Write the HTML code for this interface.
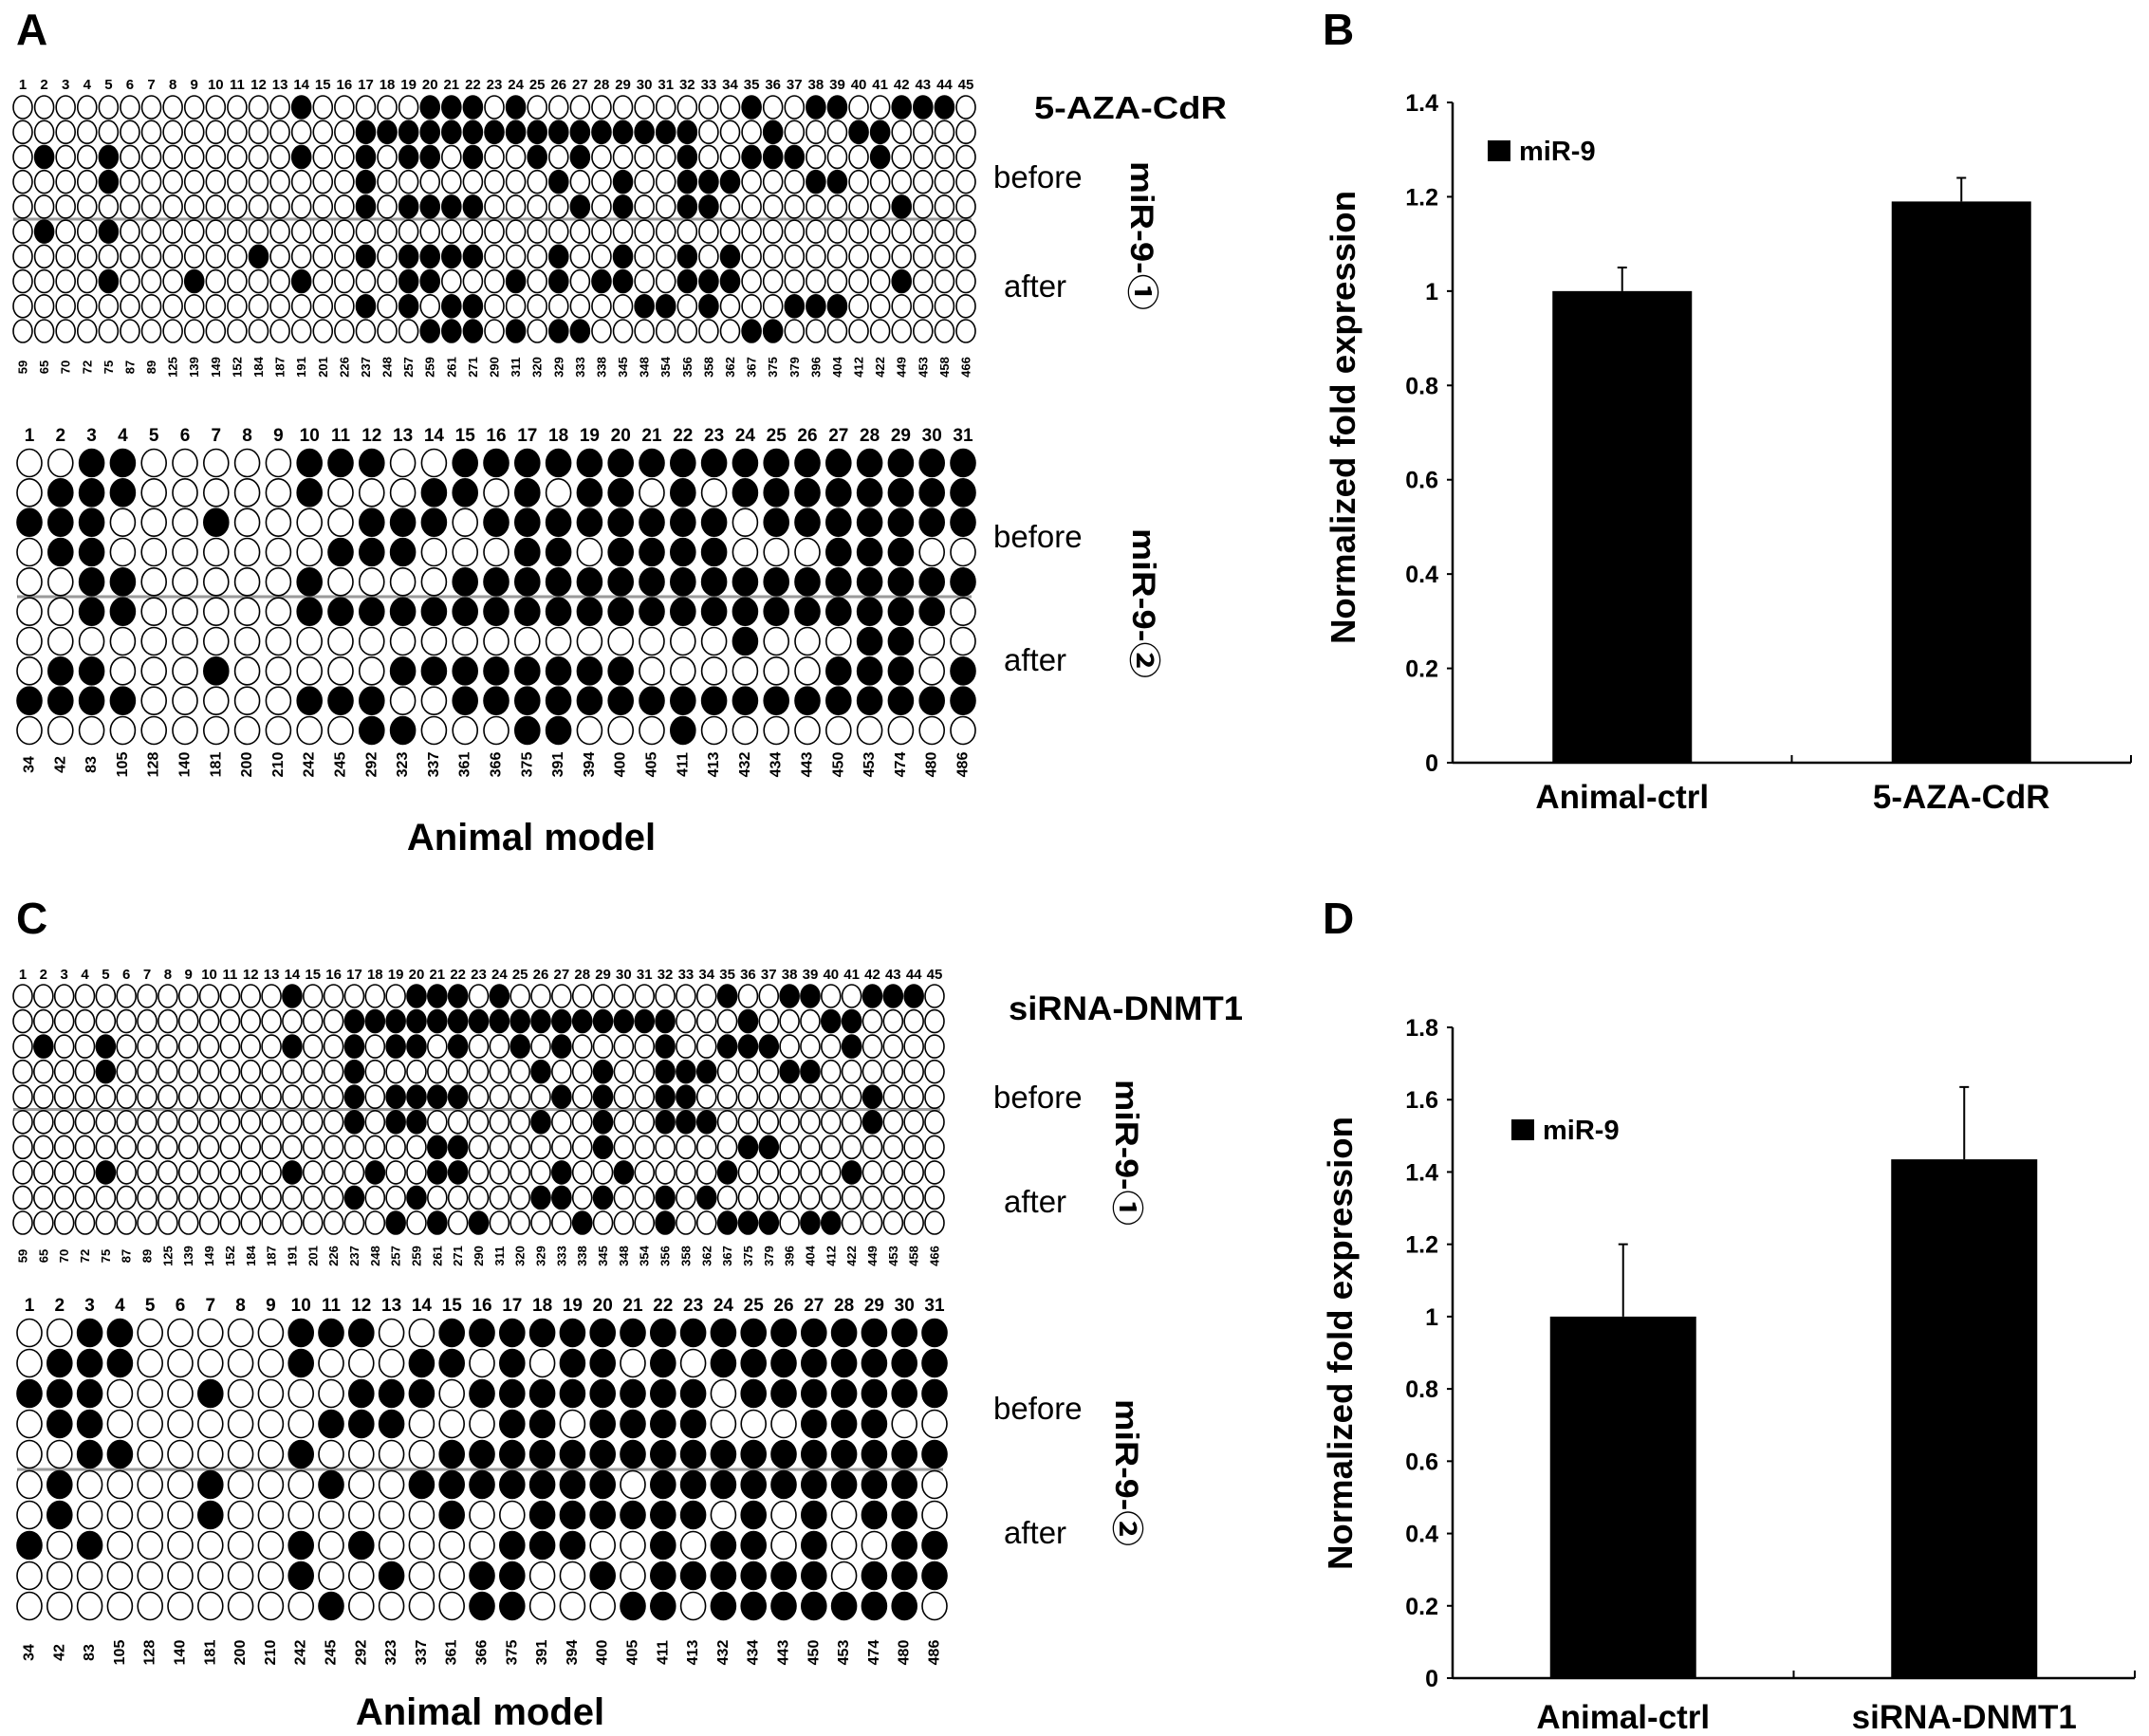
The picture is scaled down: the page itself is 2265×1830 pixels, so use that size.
<!DOCTYPE html>
<html><head><meta charset="utf-8">
<style>
html,body{margin:0;padding:0;background:#fff;}
svg{display:block;font-family:"Liberation Sans","Noto Sans CJK JP",sans-serif;}
</style></head>
<body>
<svg id="fig" width="2265" height="1830" viewBox="0 0 2265 1830" xmlns="http://www.w3.org/2000/svg">
<rect width="2265" height="1830" fill="#fff"/>
<g font-weight="bold" font-size="46" fill="#000">
<text x="17" y="47">A</text>
<text x="1394" y="47">B</text>
<text x="17" y="984">C</text>
<text x="1394" y="984">D</text>
</g>
<g fill="#000">
<text x="1090" y="125" font-weight="bold" font-size="33" textLength="203" lengthAdjust="spacingAndGlyphs">5-AZA-CdR</text>
<text x="1047" y="198" font-size="33">before</text>
<text x="1058" y="313" font-size="33">after</text>
<text transform="translate(1192,170) rotate(90)" font-weight="bold" font-size="34" textLength="157" lengthAdjust="spacingAndGlyphs">miR-9-①</text>
<text x="1047" y="577" font-size="33">before</text>
<text x="1058" y="707" font-size="33">after</text>
<text transform="translate(1194,557) rotate(90)" font-weight="bold" font-size="34" textLength="158" lengthAdjust="spacingAndGlyphs">miR-9-②</text>
<text x="560" y="896" text-anchor="middle" font-weight="bold" font-size="40">Animal model</text>

<text x="1063" y="1075" font-weight="bold" font-size="35" textLength="247" lengthAdjust="spacingAndGlyphs">siRNA-DNMT1</text>
<text x="1047" y="1168" font-size="33">before</text>
<text x="1058" y="1278" font-size="33">after</text>
<text transform="translate(1176,1138) rotate(90)" font-weight="bold" font-size="34" textLength="154" lengthAdjust="spacingAndGlyphs">miR-9-①</text>
<text x="1047" y="1496" font-size="33">before</text>
<text x="1058" y="1627" font-size="33">after</text>
<text transform="translate(1176,1475) rotate(90)" font-weight="bold" font-size="34" textLength="155" lengthAdjust="spacingAndGlyphs">miR-9-②</text>
<text x="506" y="1818" text-anchor="middle" font-weight="bold" font-size="40">Animal model</text>
</g>
<g id="grids"></g>
<g id="charts"></g>
</svg>
<script>
// ---- methylation grid data (filled CpG indices per clone row) ----
const posA1 = [59,65,70,72,75,87,89,125,139,149,152,184,187,191,201,226,237,248,257,259,261,271,290,311,320,329,333,338,345,348,354,356,358,362,367,375,379,396,404,412,422,449,453,458,466];
const rowsA1 = [
 [14,20,21,22,24,35,38,39,42,43,44],
 [17,18,19,20,21,22,23,24,25,26,27,28,29,30,31,32,36,40,41],
 [2,5,14,17,19,20,22,25,27,32,35,36,37,41],
 [5,17,26,29,32,33,34,38,39],
 [17,19,20,21,22,27,29,32,33,42],
 [2,5],
 [12,17,19,20,21,22,26,29,32,34],
 [5,9,14,19,20,24,26,28,29,32,33,34,42],
 [17,19,21,22,30,31,33,37,38,39],
 [20,21,22,24,26,27,35,36]
];
const rowsC1 = [
 [14,20,21,22,24,35,38,39,42,43,44],
 [17,18,19,20,21,22,23,24,25,26,27,28,29,30,31,32,36,40,41],
 [2,5,14,17,19,20,22,25,27,32,35,36,37,41],
 [5,17,26,29,32,33,34,38,39],
 [17,19,20,21,22,27,29,32,33,42],
 [17,19,20,26,29,32,33,34,42],
 [21,22,29,36,37],
 [5,14,18,21,22,27,30,35,41],
 [17,20,26,27,29,32,34],
 [19,21,23,28,32,35,36,37,39,40]
];
const posA2 = [34,42,83,105,128,140,181,200,210,242,245,292,323,337,361,366,375,391,394,400,405,411,413,432,434,443,450,453,474,480,486];
const rowsA2 = [
 [3,4,10,11,12,15,16,17,18,19,20,21,22,23,24,25,26,27,28,29,30,31],
 [2,3,4,10,14,15,17,19,20,22,24,25,26,27,28,29,30,31],
 [1,2,3,7,12,13,14,16,17,18,19,20,21,22,23,25,26,27,28,29,30,31],
 [2,3,11,12,13,17,18,20,21,22,23,27,28,29],
 [3,4,10,15,16,17,18,19,20,21,22,23,24,25,26,27,28,29,30,31],
 [3,4,10,11,12,13,14,15,16,17,18,19,20,21,22,23,24,25,26,27,28,29,30],
 [24,28,29],
 [2,3,7,13,14,15,16,17,18,19,20,27,28,29,31],
 [1,2,3,4,10,11,12,15,16,17,18,19,20,21,22,23,24,25,26,27,28,29,30,31],
 [12,13,17,18,22]
];
const rowsC2 = [
 [3,4,10,11,12,15,16,17,18,19,20,21,22,23,24,25,26,27,28,29,30,31],
 [2,3,4,10,14,15,17,19,20,22,24,25,26,27,28,29,30,31],
 [1,2,3,7,12,13,14,16,17,18,19,20,21,22,23,25,26,27,28,29,30,31],
 [2,3,11,12,13,17,18,20,21,22,23,27,28,29],
 [3,4,10,15,16,17,18,19,20,21,22,23,24,25,26,27,28,29,30,31],
 [2,7,11,14,15,16,17,18,19,20,22,23,24,25,26,27,28,29,30],
 [2,7,15,18,19,20,21,22,23,25,27,29,30],
 [1,3,10,12,17,18,19,22,24,25,27,30,31],
 [10,13,16,17,20,22,23,24,25,26,27,29,30,31],
 [11,16,17,21,22,24,25,26,27,28,29,30]
];

// ---- bar chart data ----
const catsB = ["Animal-ctrl","5-AZA-CdR"];
const valsB = [1.0, 1.19];
const errsB = [0.05, 0.05];
const ticksB = ["0","0.2","0.4","0.6","0.8","1","1.2","1.4"];
const catsD = ["Animal-ctrl","siRNA-DNMT1"];
const valsD = [1.0, 1.435];
const errsD = [0.2, 0.2];
const ticksD = ["0","0.2","0.4","0.6","0.8","1","1.2","1.4","1.6","1.8"];

const NS = "http://www.w3.org/2000/svg";
function mk(tag, attrs, parent){
  const e = document.createElementNS(NS, tag);
  for (const k in attrs) e.setAttribute(k, attrs[k]);
  parent.appendChild(e);
  return e;
}

function drawGrid(id, pos, rows, g){
  const G = mk("g", {}, document.getElementById("grids"));
  
  
  const n = pos.length;
  const colX = i => g.x0 + (g.x1 - g.x0) * i / (n - 1);
  const rowY = j => g.y0 + (g.y1 - g.y0) * j / (rows.length - 1);
  for (let i = 0; i < n; i++) {
    const t = mk("text", {x: colX(i), y: g.numY, "text-anchor": "middle", "font-weight": "bold", "font-size": g.numFs}, G);
    
    
    t.textContent = String(i + 1);
    const p = mk("text", {transform: "translate(" + colX(i) + "," + g.posY + ") rotate(-90)", "text-anchor": "middle", "dominant-baseline": "central", "font-weight": "bold", "font-size": g.posFs}, G);
    
    
    p.textContent = String(pos[i]);
  }
  const sepY = (rowY(4) + rowY(5)) / 2;
  const s = mk("line", {x1: g.x0 - g.rx, x2: g.x1 + g.rx - 4, y1: sepY, y2: sepY, stroke: "#9a9a9a", "stroke-width": 3}, G);
  
  
  rows.forEach((r, j) => {
    for (let i = 0; i < n; i++) {
      const filled = r.indexOf(i + 1) >= 0;
      const c = mk("ellipse", {cx: colX(i), cy: rowY(j), rx: g.rx, ry: g.ry, fill: filled ? "#000" : "#fff", stroke: "#000", "stroke-width": 1.6}, G);
      
      
    }
  });
}

drawGrid("methylation-grid-a1", posA1, rowsA1, {x0: 24, x1: 1018, y0: 113, y1: 349, rx: 10, ry: 12, numY: 94, numFs: 15, posY: 387, posFs: 13});
drawGrid("methylation-grid-a2", posA2, rowsA2, {x0: 31, x1: 1015, y0: 488, y1: 770, rx: 13, ry: 14.5, numY: 465, numFs: 19, posY: 806, posFs: 16});
drawGrid("methylation-grid-c1", posA1, rowsC1, {x0: 24, x1: 985, y0: 1050, y1: 1289, rx: 10, ry: 12, numY: 1032, numFs: 15, posY: 1324, posFs: 13});
drawGrid("methylation-grid-c2", posA2, rowsC2, {x0: 31, x1: 985, y0: 1405, y1: 1693, rx: 13, ry: 14.5, numY: 1382, numFs: 19, posY: 1742, posFs: 16});

function drawChart(id, cats, vals, errs, ticks, c){
  const G = mk("g", {}, document.getElementById("charts"));
  
  
  const ymax = parseFloat(ticks[ticks.length - 1]);
  const y = v => c.y0 - (c.y0 - c.yTop) * v / ymax;
  const x = i => c.ax + (c.xEnd - c.ax) * (i + 0.5) / cats.length;
  // bars
  vals.forEach((v, i) => {
    const b = mk("rect", {x: x(i) - c.bw / 2, y: y(v), width: c.bw, height: c.y0 - y(v), fill: "#000"}, G);
    
    
    const e = mk("path", {d: "M" + x(i) + "," + y(v) + "V" + y(v + errs[i]) + "M" + (x(i) - 5) + "," + y(v + errs[i]) + "H" + (x(i) + 5), stroke: "#000", "stroke-width": 2, fill: "none"}, G);
    
    
    const l = mk("text", {x: x(i), y: c.xlabY, "text-anchor": "middle", "font-weight": "bold", "font-size": 35}, G);
    
    
    l.textContent = cats[i];
  });
  // axes
  const ya = mk("line", {x1: c.ax, x2: c.ax, y1: c.yTop, y2: c.y0 + 1, stroke: "#000", "stroke-width": 2.5}, G);
  
  
  const xa = mk("line", {x1: c.ax, x2: c.xEnd, y1: c.y0, y2: c.y0, stroke: "#000", "stroke-width": 2.5}, G);
  
  
  for (let k = 1; k <= cats.length; k++) {
    const tx = c.ax + (c.xEnd - c.ax) * k / cats.length;
    const tk = mk("line", {x1: tx, x2: tx, y1: c.y0, y2: c.y0 - 8, stroke: "#000", "stroke-width": 2}, G);
    
    
  }
  ticks.forEach(t => {
    const v = parseFloat(t);
    const tk = mk("line", {x1: c.ax - 6, x2: c.ax, y1: y(v), y2: y(v), stroke: "#000", "stroke-width": 2}, G);
    
    
    const tl = mk("text", {x: c.ax - 15, y: y(v) + 9, "text-anchor": "end", "font-weight": "bold", "font-size": 25}, G);
    
    
    tl.textContent = t;
  });
  const yt = mk("text", {transform: "translate(" + c.titleX + "," + c.titleY + ") rotate(-90)", "text-anchor": "middle", "font-weight": "bold", "font-size": 36, textLength: 478, lengthAdjust: "spacingAndGlyphs"}, G);
  
  
  yt.textContent = "Normalized fold expression";
  const lg = mk("rect", {x: c.legX, y: c.legY, width: 24, height: 22, fill: "#000"}, G);
  
  
  const lt = mk("text", {x: c.legX + 33, y: c.legY + 21, "font-weight": "bold", "font-size": 29}, G);
  
  
  lt.textContent = "miR-9";
}

drawChart("bar-chart-b", catsB, valsB, errsB, ticksB, {ax: 1531, xEnd: 2246, y0: 804, yTop: 108, bw: 147, xlabY: 852, titleX: 1428, titleY: 440, legX: 1568, legY: 148});
drawChart("bar-chart-d", catsD, valsD, errsD, ticksD, {ax: 1531, xEnd: 2250, y0: 1769, yTop: 1083, bw: 154, xlabY: 1822, titleX: 1425, titleY: 1416, legX: 1593, legY: 1180});
</script>
</body></html>
